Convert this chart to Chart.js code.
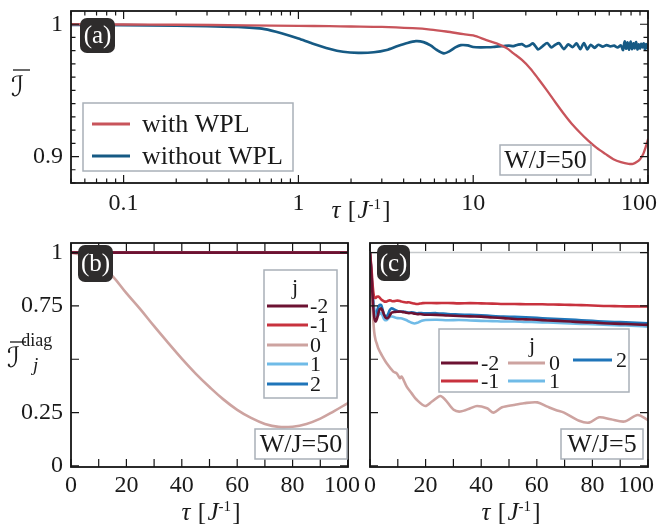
<!DOCTYPE html>
<html>
<head>
<meta charset="utf-8">
<script src="https://cdn.jsdelivr.net/npm/chart.js@4.4.0/dist/chart.umd.min.js"></script>
<style>
  body { margin: 0; background: #fff; width: 660px; height: 525px; position: relative; overflow: hidden; }
  canvas { position: absolute; }
</style>
</head>
<body>
<canvas id="ca" width="660" height="230" style="left:0;top:0"></canvas>
<canvas id="cb" width="360" height="295" style="left:0;top:230px"></canvas>
<canvas id="cc" width="300" height="295" style="left:360px;top:230px"></canvas>
<script>
// ---- panel (a): fidelity vs tau (log axis)
const aSeries = ['with WPL', 'without WPL'];
const aRedT = [0.05, 0.1, 0.2, 0.5, 1, 1.5, 2, 3, 4.5, 5.7, 7, 8.8, 10, 11.9, 13.6, 15.5, 17, 19, 21.2, 23.5,
  26.4, 29.5, 32.8, 36.5, 40.9, 45.5, 50.9, 57, 63.4, 70, 77.5, 82, 86.5, 90, 94, 98, 100];
const aRedV = [1.0, 0.9998, 0.9996, 0.9992, 0.9988, 0.9985, 0.9983, 0.998, 0.997, 0.996, 0.9945, 0.9925, 0.9915, 0.988, 0.9855, 0.982, 0.978, 0.973, 0.9666, 0.959,
  0.95, 0.941, 0.9327, 0.925, 0.918, 0.912, 0.9065, 0.902, 0.898, 0.8958, 0.8945, 0.8945, 0.896, 0.898, 0.902, 0.909, 0.913];
const aBlueT = [0.05, 0.1, 0.2, 0.3, 0.45, 0.6, 0.7, 0.8, 1, 1.2, 1.5, 1.8, 2.2, 2.7, 3.2, 3.7, 4.2, 4.7, 5.2, 5.7,
  6.2, 6.8, 7.3, 7.9, 8.5, 9.3, 10, 11, 12, 13, 14, 15, 16, 17, 18, 19, 20, 21, 22, 23.5,
  25, 26.5, 28, 29.5, 31, 33, 35, 37, 39, 41, 43, 45, 47, 49.5, 52, 55, 58, 61, 64, 67,
  70, 72, 73.5, 75, 76.5, 78, 79.5, 81, 82.5, 84, 85.5, 87, 88.5, 90, 91.5, 93, 94.5, 96, 97.5, 99, 100];
const aBlueV = [0.9995, 0.9993, 0.999, 0.9985, 0.998, 0.9968, 0.9952, 0.9932, 0.9892, 0.9855, 0.9815, 0.9792, 0.9784, 0.9788, 0.9805, 0.9835, 0.9858, 0.9872, 0.9865, 0.984,
  0.9805, 0.978, 0.9795, 0.9825, 0.9842, 0.984, 0.9828, 0.9825, 0.9826, 0.9828, 0.9832, 0.9835, 0.9838, 0.9834, 0.9845, 0.985, 0.9832, 0.984, 0.9855, 0.981,
  0.9835, 0.9858, 0.9825, 0.9845, 0.9857, 0.9812, 0.9848, 0.9826, 0.9855, 0.9812, 0.9858, 0.981, 0.9845, 0.9822, 0.9845, 0.983, 0.9842, 0.9832, 0.9838, 0.9825,
  0.984, 0.9805, 0.987, 0.9815, 0.9862, 0.9808, 0.9868, 0.9812, 0.9855, 0.9818, 0.9865, 0.981, 0.9848, 0.9815, 0.9852, 0.9825, 0.9855, 0.981, 0.985, 0.982, 0.9838];
const aXTicks = [0.05, 0.06, 0.07, 0.08, 0.09, 0.1, 0.2, 0.3, 0.4, 0.5, 0.6, 0.7, 0.8, 0.9, 1, 2, 3, 4, 5, 6, 7, 8, 9,
  10, 20, 30, 40, 50, 60, 70, 80, 90, 100];
const aXLabels = [0.1, 1, 10, 100];
const aYTicks = [0.88, 0.89, 0.9, 0.91, 0.92, 0.93, 0.94, 0.95, 0.96, 0.97, 0.98, 0.99, 1];
const aYLabels = [0.9, 1];

// ---- panels (b), (c): site-resolved fidelity, linear tau
const jLabels = ['-2', '-1', '0', '1', '2'];
const bFlatT = [0, 100];
const bFlatV = [1, 1];
const b0T = [0, 5, 10, 15, 20, 25, 30, 35, 40, 45, 50, 55, 60, 65, 70, 75, 80, 85, 90, 95, 100];
const b0V = [1, 0.985, 0.95, 0.89, 0.81, 0.735, 0.655, 0.578, 0.503, 0.433, 0.37, 0.312, 0.263, 0.225, 0.197, 0.183, 0.184, 0.197, 0.222, 0.257, 0.295];

const cT = [0, 0.5, 1, 1.5, 2, 2.5, 3, 3.5, 4, 4.5, 5, 5.5, 6, 6.5, 7, 7.5, 8, 9, 10, 11, 12, 13, 14, 15, 16, 17, 18, 19, 20,
  24, 28, 32, 36, 40, 44, 48, 52, 56, 60, 64, 68, 72, 76, 80, 84, 88, 92, 96, 100];
const cJm2 = [1, 0.9, 0.78, 0.7, 0.677, 0.69, 0.715, 0.735, 0.739, 0.728, 0.71, 0.697, 0.692, 0.694, 0.703, 0.714, 0.72, 0.722, 0.723, 0.724, 0.721, 0.718, 0.716, 0.717, 0.714, 0.711, 0.712, 0.71, 0.709,
  0.708, 0.705, 0.703, 0.701, 0.7, 0.696, 0.693, 0.689, 0.687, 0.685, 0.682, 0.68, 0.677, 0.674, 0.672, 0.669, 0.667, 0.665, 0.663, 0.661];
const cJm1 = [1, 0.93, 0.84, 0.79, 0.787, 0.793, 0.794, 0.789, 0.781, 0.776, 0.772, 0.77, 0.771, 0.774, 0.776, 0.775, 0.772, 0.773, 0.775, 0.772, 0.768, 0.766, 0.767, 0.764, 0.761, 0.759, 0.761, 0.763, 0.764,
  0.763, 0.764, 0.762, 0.763, 0.762, 0.761, 0.759, 0.759, 0.758, 0.758, 0.757, 0.756, 0.755, 0.754, 0.752, 0.75, 0.749, 0.748, 0.748, 0.747];
const cJ1 = [1, 0.91, 0.8, 0.73, 0.705, 0.7, 0.706, 0.714, 0.716, 0.705, 0.69, 0.683, 0.684, 0.69, 0.697, 0.7, 0.7, 0.696, 0.693, 0.692, 0.689, 0.684, 0.677, 0.671, 0.668, 0.671, 0.677, 0.682, 0.684,
  0.685, 0.683, 0.684, 0.682, 0.68, 0.679, 0.677, 0.677, 0.675, 0.674, 0.672, 0.67, 0.668, 0.666, 0.664, 0.662, 0.66, 0.658, 0.656, 0.653];
const cJ2 = [1, 0.91, 0.8, 0.73, 0.71, 0.725, 0.745, 0.755, 0.754, 0.735, 0.712, 0.7, 0.702, 0.712, 0.728, 0.737, 0.738, 0.731, 0.725, 0.723, 0.724, 0.721, 0.719, 0.72, 0.718, 0.716, 0.717, 0.716, 0.715,
  0.716, 0.712, 0.71, 0.708, 0.706, 0.703, 0.7, 0.699, 0.697, 0.694, 0.691, 0.688, 0.686, 0.683, 0.68, 0.677, 0.675, 0.673, 0.671, 0.669];
const c0T = [0, 0.5, 1, 1.5, 2, 2.4, 3, 4.2, 6, 8.4, 9.6, 10.8, 11.4, 13.2, 15, 16.8, 19.9, 22.3, 25.3, 27.1,
  30.1, 32.5, 36.1, 38.5, 42.1, 44.5, 47.5, 51.7, 55.4, 60.2, 63.8, 66.8, 69.8, 75.2, 78.8, 82.4, 86.6, 91.5, 96.3, 100];
const c0V = [1, 0.84, 0.72, 0.63, 0.59, 0.575, 0.55, 0.52, 0.481, 0.442, 0.434, 0.411, 0.419, 0.372, 0.34, 0.31, 0.281, 0.302, 0.328, 0.31,
  0.263, 0.255, 0.27, 0.281, 0.27, 0.25, 0.275, 0.286, 0.294, 0.298, 0.278, 0.262, 0.25, 0.212, 0.203, 0.228, 0.219, 0.208, 0.239, 0.215];

const bcXTicks = [0, 10, 20, 30, 40, 50, 60, 70, 80, 90, 100];
const bcXLabels = [0, 20, 40, 60, 80, 100];
const bcYTicks = [0, 0.25, 0.5, 0.75, 1];
const bYLabels = [0, 0.25, 0.75, 1];

const SERIF = '"Liberation Serif", "Times New Roman", serif';
const SCRIPT = '"DejaVu Serif", "DejaVu Sans", serif';
const RED = '#c8545b', BLUE = '#165a84';
const jColors = ['#6c1232', '#c8323e', '#cda3a0', '#70bbe7', '#1f75b9'];
const TICK_FONT = { family: SERIF, size: 24 };

Chart.defaults.font.family = SERIF;
Chart.defaults.color = '#1a1a1a';

const pts = (t, v) => t.map((x, i) => ({ x, y: v[i] }));
const tickObjs = (vals, majors) => vals.map(v => ({ value: v, major: majors.includes(v) }));
const lbl = (labels, pad) => (v) => labels.includes(v) ? String(v) + (v === labels[labels.length - 1] ? pad : '') : '';

function drawTag(ctx, t) {
  ctx.beginPath();
  ctx.roundRect(t.x, t.y, t.w, t.h, t.dark ? 7 : 0);
  if (t.dark) { ctx.fillStyle = '#2e2c2c'; ctx.fill(); }
  else { ctx.fillStyle = '#fff'; ctx.fill(); ctx.strokeStyle = '#a9b0b8'; ctx.lineWidth = 1.5; ctx.stroke(); }
  ctx.fillStyle = t.dark ? '#fff' : '#1a1a1a';
  ctx.font = t.font;
  ctx.textAlign = 'center';
  ctx.textBaseline = 'middle';
  ctx.fillText(t.text, t.x + t.w / 2, t.y + t.h / 2 + 1);
}

function drawRich(ctx, r) {
  let w = 0;
  r.parts.forEach(p => { ctx.font = p.f; w += ctx.measureText(p.t).width + (p.dx || 0); });
  let cx = r.align === 'center' ? r.x - w / 2 : r.x;
  ctx.fillStyle = '#1a1a1a';
  ctx.textAlign = 'left';
  ctx.textBaseline = 'alphabetic';
  r.parts.forEach(p => {
    ctx.font = p.f;
    cx += p.dx || 0;
    ctx.fillText(p.t, cx, r.y + (p.dy || 0));
    cx += ctx.measureText(p.t).width;
  });
  (r.lines || []).forEach(l => {
    ctx.strokeStyle = '#1a1a1a'; ctx.lineWidth = 1.3;
    ctx.beginPath(); ctx.moveTo(l[0], l[1]); ctx.lineTo(l[2], l[3]); ctx.stroke();
  });
}

function drawLegend(chart, lg) {
  const ctx = chart.ctx;
  const [bx, by, bw, bh] = lg.box;
  ctx.fillStyle = '#fff';
  ctx.fillRect(bx, by, bw, bh);
  ctx.strokeStyle = '#a9b0b8'; ctx.lineWidth = 1.5;
  ctx.strokeRect(bx, by, bw, bh);
  ctx.font = lg.font;
  ctx.fillStyle = '#1a1a1a';
  ctx.textBaseline = 'middle';
  if (lg.title) { ctx.textAlign = 'center'; ctx.fillText(lg.title.t, lg.title.x, lg.title.y); }
  ctx.textAlign = 'left';
  lg.items.forEach(it => {
    const ds = chart.data.datasets[it.i];
    ctx.strokeStyle = ds.borderColor; ctx.lineWidth = 3.2;
    ctx.beginPath(); ctx.moveTo(it.x1, it.y); ctx.lineTo(it.x2, it.y); ctx.stroke();
    ctx.fillStyle = '#1a1a1a';
    ctx.fillText(ds.label, it.tx, it.y + (it.dy || 1));
  });
}

const decor = {
  id: 'decor',
  beforeDatasetsDraw(chart, args, o) {
    if (o.refLine == null) return;
    const { ctx, chartArea: c, scales: { y } } = chart;
    const py = y.getPixelForValue(o.refLine);
    ctx.save();
    ctx.strokeStyle = '#c6c9cc'; ctx.lineWidth = 1.5;
    ctx.beginPath(); ctx.moveTo(c.left, py); ctx.lineTo(c.right, py); ctx.stroke();
    ctx.restore();
  },
  afterDatasetsDraw(chart, args, o) {
    const { ctx, chartArea: c, scales: { x, y } } = chart;
    ctx.save();
    ctx.strokeStyle = '#151515'; ctx.lineWidth = 1.8;
    ctx.strokeRect(c.left, c.top, c.right - c.left, c.bottom - c.top);
    ctx.lineWidth = 1.2;
    ctx.beginPath();
    x.ticks.forEach(t => {
      const px = x.getPixelForValue(t.value), L = t.major ? 8 : 4.5;
      ctx.moveTo(px, c.bottom); ctx.lineTo(px, c.bottom - L);
      ctx.moveTo(px, c.top); ctx.lineTo(px, c.top + L);
    });
    y.ticks.forEach(t => {
      const py = y.getPixelForValue(t.value), L = t.major ? 8 : 4.5;
      ctx.moveTo(c.left, py); ctx.lineTo(c.left + L, py);
      ctx.moveTo(c.right, py); ctx.lineTo(c.right - L, py);
    });
    ctx.stroke();
    if (o.legend) drawLegend(chart, o.legend);
    (o.tags || []).forEach(t => drawTag(ctx, t));
    (o.texts || []).forEach(r => drawRich(ctx, r));
    ctx.restore();
  }
};

function baseOptions(pad, xScale, yScale, decorOpts) {
  return {
    responsive: false,
    animation: false,
    events: [],
    layout: { padding: pad },
    elements: { point: { radius: 0 }, line: { borderCapStyle: 'round', borderJoinStyle: 'round' } },
    plugins: { legend: { display: false }, tooltip: { enabled: false }, decor: decorOpts },
    scales: { x: xScale, y: yScale }
  };
}

function xTitle(cx, by, size) {
  return {
    x: cx, y: by, align: 'center', parts: [
      { t: 'τ', f: `italic ${size}px ${SERIF}` },
      { t: '[', f: `${size}px ${SERIF}`, dx: size * 0.3 },
      { t: 'J', f: `italic ${size}px ${SERIF}`, dx: size * 0.05 },
      { t: '-1', f: `${Math.round(size * 0.6)}px ${SERIF}`, dy: -size * 0.38 },
      { t: ']', f: `${size}px ${SERIF}`, dx: size * 0.05 }
    ]
  };
}

// ---------------- chart (a)
new Chart(document.getElementById('ca'), {
  type: 'line',
  data: {
    datasets: [
      { label: aSeries[0], data: pts(aRedT, aRedV), borderColor: RED, borderWidth: 2.3, tension: 0.3 },
      { label: aSeries[1], data: pts(aBlueT, aBlueV), borderColor: BLUE, borderWidth: 2.7, tension: 0.25 }
    ]
  },
  options: baseOptions(
    { top: 11, right: 12, left: 0, bottom: 0 },
    {
      type: 'logarithmic', min: 0.05, max: 100,
      grid: { display: false, drawTicks: false }, border: { display: false },
      afterBuildTicks: s => { s.ticks = tickObjs(aXTicks, aXLabels); },
      ticks: { autoSkip: false, maxRotation: 0, padding: 6, font: TICK_FONT, callback: lbl(aXLabels, '   ') },
      afterFit: s => { s.height = 47; s.paddingLeft = 0; s.paddingRight = 0; }
    },
    {
      type: 'linear', min: 0.88, max: 1.01,
      grid: { display: false, drawTicks: false }, border: { display: false },
      afterBuildTicks: s => { s.ticks = tickObjs(aYTicks, aYLabels); },
      ticks: { autoSkip: false, padding: 8, font: TICK_FONT, callback: lbl(aYLabels, '') },
      afterFit: s => { s.width = 71; s.paddingTop = 0; s.paddingBottom = 0; }
    },
    {
      legend: {
        box: [83, 103, 210, 68], font: `26px ${SERIF}`,
        items: [{ i: 0, x1: 92, x2: 130, y: 124, tx: 142 }, { i: 1, x1: 92, x2: 130, y: 156, tx: 142 }]
      },
      tags: [
        { x: 80, y: 18, w: 35, h: 35, text: '(a)', dark: true, font: `25px ${SERIF}` },
        { x: 500, y: 145, w: 91, h: 30, text: 'W/J=50', font: `26px ${SERIF}` }
      ],
      texts: [
        xTitle(361, 218, 25),
        { x: 11, y: 96, parts: [{ t: 'ℐ', f: `italic 28px ${SCRIPT}` }], lines: [[13, 70, 30, 70]] }
      ]
    }
  ),
  plugins: [decor]
});

// ---------------- chart (b)
const bData = [
  pts(bFlatT, bFlatV), pts(bFlatT, bFlatV), pts(b0T, b0V), pts(bFlatT, bFlatV), pts(bFlatT, bFlatV)
];
new Chart(document.getElementById('cb'), {
  type: 'line',
  data: {
    datasets: jLabels.map((j, i) => ({ label: j, data: bData[i], borderColor: jColors[i], borderWidth: 2.6, tension: 0.4 }))
  },
  options: baseOptions(
    { top: 13, right: 12, left: 0, bottom: 0 },
    {
      type: 'linear', min: 0, max: 100,
      grid: { display: false, drawTicks: false }, border: { display: false },
      afterBuildTicks: s => { s.ticks = tickObjs(bcXTicks, bcXTicks); },
      ticks: { autoSkip: false, maxRotation: 0, padding: 4, font: TICK_FONT, callback: lbl(bcXLabels, '  ') },
      afterFit: s => { s.height = 58; s.paddingLeft = 0; s.paddingRight = 0; }
    },
    {
      type: 'linear', min: -0.005, max: 1.045,
      grid: { display: false, drawTicks: false }, border: { display: false },
      afterBuildTicks: s => { s.ticks = tickObjs(bcYTicks, bcYTicks); },
      ticks: { autoSkip: false, padding: 8, font: TICK_FONT, callback: lbl(bYLabels, '') },
      afterFit: s => { s.width = 71; s.paddingTop = 0; s.paddingBottom = 0; }
    },
    {
      legend: {
        box: [264, 40, 73, 128], font: `22px ${SERIF}`, title: { t: 'j', x: 295, y: 58 },
        items: [76, 95, 115, 134, 154].map((y, i) => ({ i, x1: 267, x2: 308, y, tx: 310 }))
      },
      tags: [
        { x: 78, y: 15, w: 35, h: 37, text: '(b)', dark: true, font: `25px ${SERIF}` },
        { x: 255, y: 199, w: 92, h: 30, text: 'W/J=50', font: `26px ${SERIF}` }
      ],
      texts: [
        xTitle(211, 290, 25),
        {
          x: 7, y: 137, parts: [
            { t: 'ℐ', f: `italic 28px ${SCRIPT}` },
            { t: 'diag', f: `18px ${SERIF}`, dx: 1, dy: -21 }
          ], lines: [[10, 112, 26, 112]]
        },
        { x: 33, y: 141, parts: [{ t: 'j', f: `italic 19px ${SERIF}` }] }
      ]
    }
  ),
  plugins: [decor]
});

// ---------------- chart (c)
const cData = [pts(cT, cJm2), pts(cT, cJm1), pts(c0T, c0V), pts(cT, cJ1), pts(cT, cJ2)];
new Chart(document.getElementById('cc'), {
  type: 'line',
  data: {
    datasets: jLabels.map((j, i) => ({ label: j, data: cData[i], borderColor: jColors[i], borderWidth: 2.6, tension: 0.3 }))
  },
  options: baseOptions(
    { top: 13, right: 12, left: 0, bottom: 0 },
    {
      type: 'linear', min: 0, max: 100,
      grid: { display: false, drawTicks: false }, border: { display: false },
      afterBuildTicks: s => { s.ticks = tickObjs(bcXTicks, bcXTicks); },
      ticks: { autoSkip: false, maxRotation: 0, padding: 4, font: TICK_FONT, callback: lbl(bcXLabels, '    ') },
      afterFit: s => { s.height = 58; s.paddingLeft = 0; s.paddingRight = 0; }
    },
    {
      type: 'linear', min: -0.005, max: 1.045,
      grid: { display: false, drawTicks: false }, border: { display: false },
      afterBuildTicks: s => { s.ticks = tickObjs(bcYTicks, bcYTicks); },
      ticks: { display: false },
      afterFit: s => { s.width = 10; s.paddingTop = 0; s.paddingBottom = 0; }
    },
    {
      refLine: 1,
      legend: {
        box: [79, 99, 190, 63], font: `22px ${SERIF}`, title: { t: 'j', x: 172, y: 116 },
        items: [
          { i: 0, x1: 81, x2: 118, y: 133, tx: 121 },
          { i: 1, x1: 81, x2: 118, y: 151, tx: 121 },
          { i: 2, x1: 148, x2: 185, y: 133, tx: 189 },
          { i: 3, x1: 148, x2: 185, y: 151, tx: 189 },
          { i: 4, x1: 213, x2: 252, y: 130, tx: 256 }
        ]
      },
      tags: [
        { x: 17, y: 15, w: 33, h: 36, text: '(c)', dark: true, font: `25px ${SERIF}` },
        { x: 201, y: 199, w: 82, h: 30, text: 'W/J=5', font: `26px ${SERIF}` }
      ],
      texts: [xTitle(151, 290, 25)]
    }
  ),
  plugins: [decor]
});
</script>
</body>
</html>
